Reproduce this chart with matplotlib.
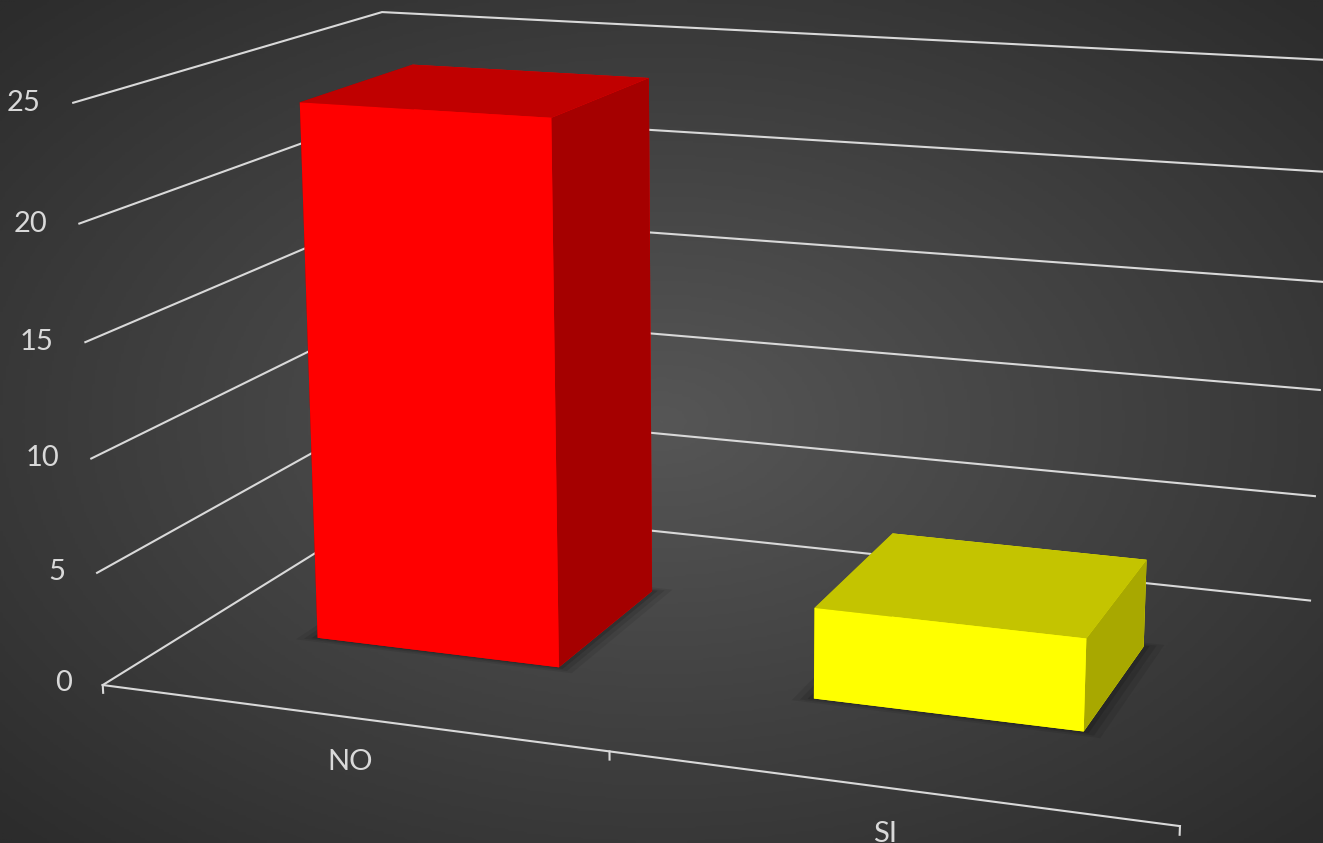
import numpy as np
import matplotlib.pyplot as plt
from matplotlib.colors import LinearSegmentedColormap
from mpl_toolkits.mplot3d.art3d import Poly3DCollection

plt.rcParams['font.family'] = ['Lato', 'DejaVu Sans']

categorias = ['NO', 'SI']
valores = [24, 4]
color_frente = ['#ff0000', '#ffff00']
color_arriba = ['#c00000', '#c4c400']
color_lado = ['#a50000', '#a8a800']
marcas_z = [0, 5, 10, 15, 20, 25]

gris = '#d9d9d9'

fig = plt.figure(figsize=(13.23, 8.43), dpi=100)

# fondo gris con degradado radial
fondo = fig.add_axes([0, 0, 1, 1], zorder=0)
yy, xx = np.mgrid[-1:1:300j, -1:1:500j]
r = np.sqrt(xx ** 2 + yy ** 2)
cmap_fondo = LinearSegmentedColormap.from_list('fondo', ['#565656', '#2c2c2c'])
fondo.imshow(r, cmap=cmap_fondo, vmin=0, vmax=1.4, aspect='auto', extent=[0, 1, 0, 1])
fondo.axis('off')

# vista 3D en perspectiva, estilo columna 3D de Excel
ax = fig.add_axes([0.0432, 0.051, 1, 1], projection='3d', zorder=1)
ax.set_facecolor('none')
ax.set_axis_off()
ax.computed_zorder = False
ax.set_proj_type('persp', focal_length=0.70)
ax.view_init(elev=14.13, azim=-70.3)

n = len(categorias)
z_max = marcas_z[-1]
ancho, prof, y_barra = 0.5, 0.39, 0.3
xs = np.arange(n) + (1 - ancho) / 2

# lineas de division sobre la pared izquierda y la del fondo
for k in marcas_z:
    ax.plot([0, 0, n], [0, 1, 1], [k, k, k], color=gris, lw=1.5, zorder=0.5, clip_on=False)
# eje de categorias y sus marcas
ax.plot([0, n], [0, 0], [0, 0], color=gris, lw=1.5, zorder=0.5, clip_on=False)
for b in range(n + 1):
    ax.plot([b, b], [0, 0], [0, -0.35], color=gris, lw=1.5, zorder=0.5, clip_on=False)

# sombra difusa bajo cada barra
for i in range(n):
    for mx, my, a in [(0.035, 0.018, 0.08), (0.022, 0.011, 0.1), (0.01, 0.005, 0.14)]:
        x0, x1 = xs[i] - mx, xs[i] + ancho + mx
        y0, y1 = y_barra - my, y_barra + prof + my
        sombra = Poly3DCollection([[(x0, y0, 0), (x1, y0, 0), (x1, y1, 0), (x0, y1, 0)]],
                                  facecolor='black', edgecolor='none', alpha=a, zorder=1)
        sombra.set_clip_on(False)
        ax.add_collection3d(sombra)

caras = []
for i in range(n):
    # orden de caras en bar3d: abajo, arriba, frente, fondo, izquierda, derecha
    caras += [color_frente[i], color_arriba[i], color_frente[i],
              color_frente[i], color_lado[i], color_lado[i]]
barras = ax.bar3d(xs, np.full(n, y_barra), np.zeros(n), ancho, prof, valores,
                  color=caras, shade=False, linewidth=0, zorder=2)
barras.set_clip_on(False)

ax.set_xlim(0, n)
ax.set_ylim(0, 1)
ax.set_zlim(0, z_max)
ax.set_box_aspect((2, 1.2384, 1.0785), zoom=1.5961)

# etiquetas del eje de valores, a la izquierda de la pared
for k in marcas_z:
    ax.text(-0.065, 0, k, str(k), color=gris, fontsize=21, ha='right', va='center_baseline')

# nombres de las categorias bajo el eje
for i, cat in enumerate(categorias):
    ax.text(i + 0.5, 0, -1.85, cat, color=gris, fontsize=21, ha='center', va='center_baseline')

fig.savefig('out.png', dpi=100)
